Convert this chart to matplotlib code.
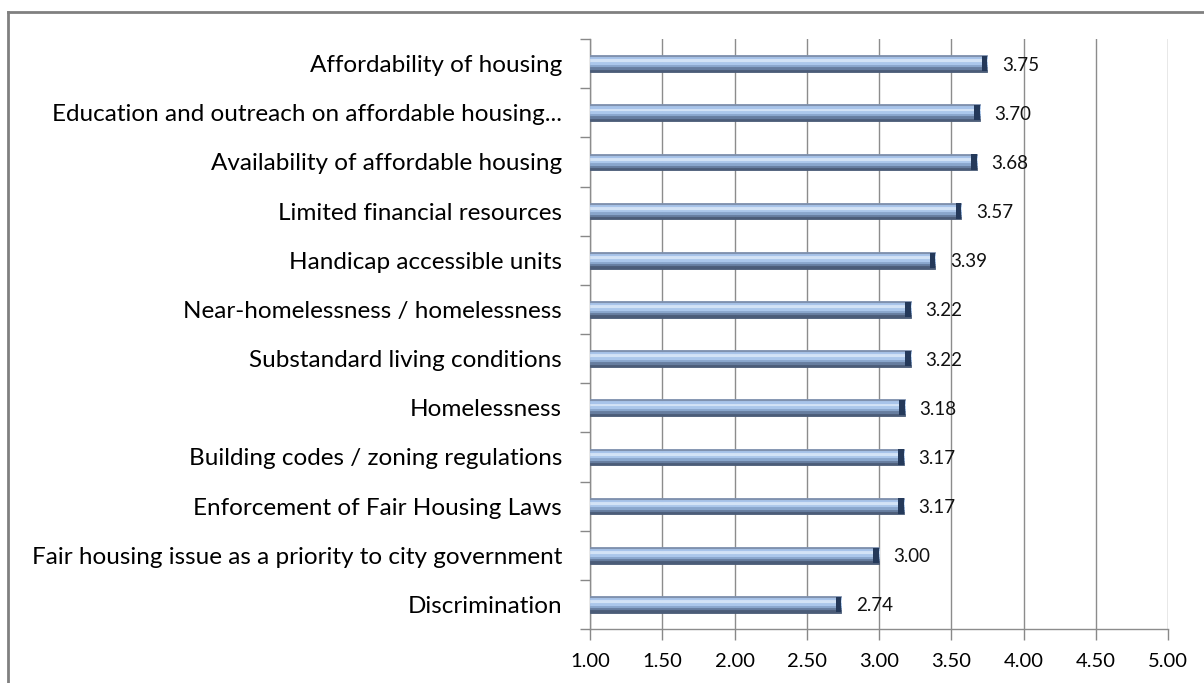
import matplotlib
matplotlib.use("Agg")
import matplotlib.pyplot as plt
from matplotlib.lines import Line2D
import numpy as np

categories = [
    "Affordability of housing",
    "Education and outreach on affordable housing...",
    "Availability of affordable housing",
    "Limited financial resources",
    "Handicap accessible units",
    "Near-homelessness / homelessness",
    "Substandard living conditions",
    "Homelessness",
    "Building codes / zoning regulations",
    "Enforcement of Fair Housing Laws",
    "Fair housing issue as a priority to city government",
    "Discrimination",
]
values = [3.75, 3.70, 3.68, 3.57, 3.39, 3.22, 3.22, 3.18, 3.17, 3.17, 3.00, 2.74]
value_labels = ["3.75", "3.70", "3.68", "3.57", "3.39", "3.22", "3.22", "3.18", "3.17", "3.17", "3.00", "2.74"]
xticks = [1.0, 1.5, 2.0, 2.5, 3.0, 3.5, 4.0, 4.5, 5.0]
xtick_labels = ["1.00", "1.50", "2.00", "2.50", "3.00", "3.50", "4.00", "4.50", "5.00"]
base = 1.0

plt.rcParams['font.family'] = ['Lato', 'DejaVu Sans']

fig = plt.figure(figsize=(12.04, 6.83), dpi=100)
ax = fig.add_axes([590/1204, 1 - 629/683, (1168-590)/1204, (629-39)/683])

n = len(categories)
ypos = np.arange(n)[::-1]

# cylinder-like shading: strips from top (0) to bottom (1) of the bar
bar_h = 0.34
strips = [
    (0.00, 0.12, "#7f91ae"),
    (0.12, 0.25, "#a8c4ea"),
    (0.25, 0.42, "#d3e3f6"),
    (0.42, 0.58, "#abc7eb"),
    (0.58, 0.72, "#89a6cc"),
    (0.72, 0.86, "#667d9f"),
    (0.86, 1.00, "#4b5c78"),
]
widths = [v - base for v in values]
for a, b, col in strips:
    h = (b - a) * bar_h
    center_off = bar_h / 2 - (a + b) / 2 * bar_h
    ax.barh(ypos + center_off, widths, left=base, height=h, color=col,
            edgecolor=col, linewidth=0.6, zorder=3)
# dark end caps
cap_w = 0.04
for y, v in zip(ypos, values):
    ax.barh(y, cap_w, left=v - cap_w, height=bar_h * 0.92, color="#24395a",
            edgecolor="none", zorder=4)

for y, v, lab in zip(ypos, values, value_labels):
    ax.text(v + 0.1, y, lab, va="center_baseline", ha="left", fontsize=13.5,
            color="#111111", zorder=5)

ax.set_xlim(1.0, 5.0)
ax.set_ylim(-0.5, n - 0.5)
ax.set_xticks(xticks)
ax.set_xticklabels(xtick_labels, fontsize=14.5)
ax.set_yticks(ypos)
ax.set_yticklabels(categories, fontsize=17.5)
ax.tick_params(axis="y", length=0, pad=20)
ax.tick_params(axis="x", length=8, width=1, color="#888888", pad=9)

# tick marks between categories on y axis
ax.set_yticks(np.arange(-0.5, n, 1.0), minor=True)
ax.tick_params(axis="y", which="minor", length=7, width=1, color="#888888")

ax.grid(axis="x", color="#8c8c8c", linewidth=1, zorder=0)
ax.set_axisbelow(True)
for s in ["top", "right"]:
    ax.spines[s].set_visible(False)
for s in ["left", "bottom"]:
    ax.spines[s].set_color("#8c8c8c")
    ax.spines[s].set_linewidth(1)

# outer chart border (left and top visible)
fig.add_artist(Line2D([8/1204, 8/1204], [0, 1 - 12/683], color="#808080", linewidth=2))
fig.add_artist(Line2D([8/1204, 1], [1 - 12/683, 1 - 12/683], color="#808080", linewidth=2))

fig.savefig("out.png", dpi=100)
